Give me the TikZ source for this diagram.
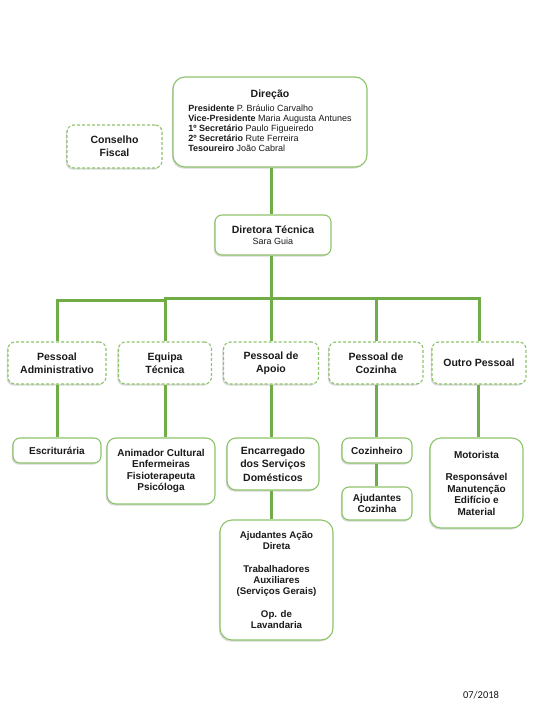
\documentclass[tikz,border=0pt]{standalone}
\usepackage{fontspec}
\setmainfont{Liberation Sans}
\newfontfamily\footfont{Carlito}
\usetikzlibrary{shadows}
\definecolor{boxgreen}{HTML}{8CC46A}
\definecolor{linegreen}{HTML}{70AD47}
\definecolor{txt}{HTML}{1A1A1A}
\tikzset{
  box/.style={draw=boxgreen, line width=1.1pt, rounded corners=7pt, fill=white,
    align=center, inner sep=2pt, text=txt,
    font=\bfseries\fontsize{10}{11.5}\selectfont,
    drop shadow={shadow xshift=-1.2pt, shadow yshift=-1.6pt, fill=black!30, opacity=0.5}},
  dbox/.style={box, dash pattern=on 3pt off 2pt, font=\bfseries\fontsize{10.5}{13}\selectfont},
  conn/.style={draw=linegreen, line width=3pt},
}
\begin{document}
\begin{tikzpicture}[x=1pt,y=-1pt]
\useasboundingbox (0,0) rectangle (533,715);
\fill[white] (0,0) rectangle (533,715);

% top
\node[box, rounded corners=12pt, minimum width=194pt, minimum height=90pt] (dir) at (270,122)
  {{\fontsize{10.5}{12}\selectfont Direção}\\[4pt]
   {\fontsize{9}{10}\selectfont\begin{tabular}{@{}l@{}}
   Presidente {\mdseries P. Bráulio Carvalho}\\
   Vice-Presidente {\mdseries Maria Augusta Antunes}\\
   1º Secretário {\mdseries Paulo Figueiredo}\\
   2º Secretário {\mdseries Rute Ferreira}\\
   Tesoureiro {\mdseries João Cabral}
   \end{tabular}}};
\node[dbox, minimum width=95pt, minimum height=43pt] (cf) at (114.5,146.5) {Conselho\\Fiscal};
\node[box, minimum width=116pt, minimum height=40pt, font=\bfseries\fontsize{10.5}{11}\selectfont] (dt) at (273,235)
  {Diretora Técnica\\{\mdseries\fontsize{9}{10}\selectfont Sara Guia}};

% level 2
\node[dbox, minimum width=98pt, minimum height=42pt] (adm) at (57,363) {Pessoal\\Administrativo};
\node[dbox, minimum width=93pt, minimum height=42pt] (eq) at (165,363) {Equipa\\Técnica};
\node[dbox, minimum width=95pt, minimum height=42pt] (ap) at (271,363) {Pessoal de\\Apoio};
\node[dbox, minimum width=94pt, minimum height=42pt] (coz) at (376,363) {Pessoal de\\Cozinha};
\node[dbox, minimum width=94pt, minimum height=42pt] (out) at (479,363) {Outro Pessoal};

% level 3
\node[box, minimum width=88pt, minimum height=25pt] (esc) at (57,450.5) {Escriturária};
\node[box, rounded corners=9pt, minimum width=108pt, minimum height=66pt] (ani) at (161,471)
  {Animador Cultural\\Enfermeiras\\Fisioterapeuta\\Psicóloga};
\node[box, rounded corners=9pt, minimum width=92pt, minimum height=52pt, font=\bfseries\fontsize{10.5}{13.5}\selectfont] (enc) at (273,464)
  {Encarregado\\dos Serviços\\Domésticos};
\node[box, minimum width=70pt, minimum height=25pt] (cozi) at (377,450.5) {Cozinheiro};
\node[box, minimum width=70pt, minimum height=33pt] (ajc) at (377,503.5) {Ajudantes\\Cozinha};
\node[box, rounded corners=11pt, minimum width=93pt, minimum height=90pt] (mot) at (476.5,483)
  {Motorista\\[11pt]Responsável\\Manutenção\\Edifício e\\Material};
\node[box, rounded corners=12pt, minimum width=113pt, minimum height=120pt, font=\bfseries\fontsize{9.7}{10.6}\selectfont] (aja) at (276.5,580)
  {Ajudantes Ação\\Direta\\[13pt]Trabalhadores\\Auxiliares\\(Serviços Gerais)\\[13pt]Op. de\\Lavandaria};

% connectors
\coordinate (barL) at (57,300.5);
\coordinate (barM) at (164,298);
\coordinate (barR) at (479,298);
\draw[conn] (dir.south -| 271,0) -- (dt.north -| 271,0);
\draw[conn] (dt.south -| 271,0) -- (ap.north);
\draw[conn] (barM) -- (barR) -- (out.north);
\draw[conn] (adm.north) -- (barL) -- (barL -| 167,0);
\draw[conn] (eq.north) -- (eq.north |- barM);
\draw[conn] (coz.north) -- (coz.north |- barM);
\draw[conn] (adm.south) -- (esc.north);
\draw[conn] (eq.south) -- (eq.south |- ani.north);
\draw[conn] (ap.south) -- (ap.south |- enc.north);
\draw[conn] (coz.south) -- (coz.south |- cozi.north);
\draw[conn] (cozi.south -| coz.south) -- (ajc.north -| coz.south);
\draw[conn] (out.south -| 478,0) -- (mot.north -| 478,0);
\draw[conn] (enc.south -| 271,0) -- (aja.north -| 271,0);

\node[font=\footfont\fontsize{10.5}{12}\selectfont, text=txt] (date) at (481,695) {07/2018};
\end{tikzpicture}
\end{document}
